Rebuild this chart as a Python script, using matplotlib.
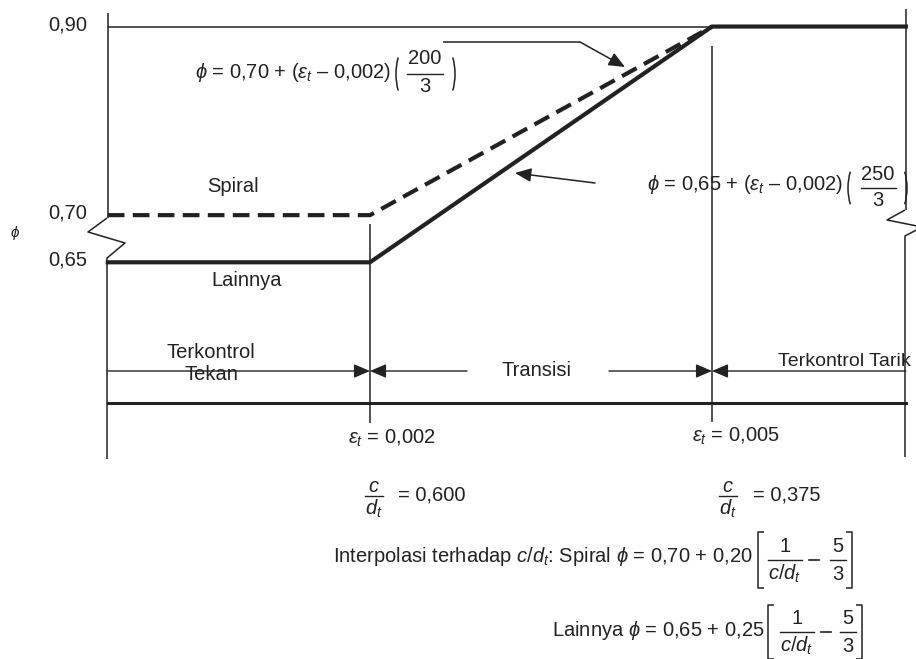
import matplotlib
matplotlib.use('Agg')
import matplotlib.pyplot as plt
import matplotlib.transforms as mtransforms
from matplotlib.patches import Arc

plt.rcParams['font.family'] = ['Liberation Sans', 'DejaVu Sans']
plt.rcParams['mathtext.fontset'] = 'custom'
plt.rcParams['mathtext.rm'] = 'Liberation Sans'
plt.rcParams['mathtext.it'] = 'Liberation Sans:italic'
plt.rcParams['mathtext.bf'] = 'Liberation Sans:bold'

# strain at the zone limits (left edge, 0.002, 0.005, right edge) and phi there
eps_pts = [-0.0003, 0.002, 0.005, 0.0067]
phi_spiral = [0.70, 0.70, 0.90]
phi_lainnya = [0.65, 0.65, 0.90, 0.90]
phi_ticks = [0.90, 0.70, 0.65]
phi_labels = ['0,90', '0,70', '0,65']
eps_marks = [0.002, 0.005]
eps_labels = [r'$\varepsilon_t$ = 0,002', r'$\varepsilon_t$ = 0,005']
cd_values = ['= 0,600', '= 0,375']
zone_labels = ['Terkontrol\nTekan', 'Transisi', 'Terkontrol Tarik']

W, H = 916, 659
INK = '#222222'
FS = 14.5

fig = plt.figure(figsize=(W / 100, H / 100), dpi=100)
ax = fig.add_axes([0, 0, 1, 1])
ax.axis('off')

# strain axis: 0.002 -> 370 px, 0.005 -> 712 px ; phi axis: 943 px per unit
kx = 342 / 0.003
ax.set_xlim(0.002 - 370 / kx, 0.002 + (W - 370) / kx)
ky = 943
ax.set_ylim(0.75 - (H - 168) / ky, 0.75 + 168 / ky)

# pixel coords (origin top-left) and blended helpers
px = mtransforms.Affine2D().scale(1 / W, -1 / H).translate(0, 1) + fig.transFigure
bx = mtransforms.blended_transform_factory(ax.transData, px)
by = mtransforms.blended_transform_factory(px, ax.transData)

thin = dict(color=INK, lw=1.1, solid_capstyle='butt')


def txt(x, y, s, ha='left', fs=FS, **kw):
    return ax.text(x, y, s, transform=px, ha=ha, va='center', fontsize=fs, color=INK, **kw)


def frac(xc, yb, num, den, w, up=14, down=14):
    txt(xc, yb - up, num, ha='center')
    txt(xc, yb + down, den, ha='center')
    ax.plot([xc - w / 2, xc + w / 2], [yb, yb], transform=px, color=INK, lw=1.0)


def parens(x0, x1, top, bot):
    h = bot - top
    yc = (top + bot) / 2
    ax.add_patch(Arc((x0 + 10, yc), 20, h, theta1=115, theta2=245, transform=px,
                     color=INK, lw=1.1))
    ax.add_patch(Arc((x1 - 10, yc), 20, h, theta1=-65, theta2=65, transform=px,
                     color=INK, lw=1.1))


def brackets(x0, x1, top, bot):
    ax.plot([x0 + 6, x0, x0, x0 + 6], [top, top, bot, bot], transform=px, **thin)
    ax.plot([x1 - 6, x1, x1, x1 - 6], [top, top, bot, bot], transform=px, **thin)


# frame: top line, side borders with breaks, zone dividers, base line
ax.plot([eps_pts[0], eps_pts[2]], [0.90, 0.90], **thin)
ax.plot([eps_pts[0]] * 2, [13, 218], transform=bx, **thin)
ax.plot([107, 88, 125, 107, 107], [218, 232, 243, 258, 459], transform=px, **thin)
ax.plot([eps_pts[3]] * 2, [9, 210], transform=bx, **thin)
ax.plot([905, 887, 922, 905, 905], [210, 220, 227, 236, 457], transform=px, **thin)
ax.plot([eps_marks[0]] * 2, [224, 423], transform=bx, **thin)
ax.plot([eps_marks[1]] * 2, [46, 422], transform=bx, **thin)
ax.plot([eps_pts[0], eps_pts[3]], [403, 403], transform=bx, color=INK, lw=2.2)

# phi curves
ax.plot(eps_pts, phi_lainnya, color=INK, lw=3.0, solid_joinstyle='miter')
ax.plot(eps_pts[:3], phi_spiral, color=INK, lw=3.0, ls=(0, (4, 2)))

# phi labels
for v, s in zip(phi_ticks, phi_labels):
    ax.text(87, v + 0.002, s, transform=by, ha='right', va='center', fontsize=FS, color=INK)
txt(15, 233, r'$\phi$', ha='center', fs=11)

txt(233, 186, 'Spiral', ha='center')
txt(247, 280, 'Lainnya', ha='center')

head = '-|>,head_length=0.7,head_width=0.3'

# formulas with leader arrows
txt(195, 72, r'$\phi$ = 0,70 + ($\varepsilon_t$ – 0,002)')
frac(425, 74, '200', '3', 36, up=15, down=13)
parens(396, 455, 48, 100)
ax.plot([443, 580], [42, 42], transform=px, **thin)
ax.annotate('', xy=(625, 67), xytext=(580, 42), xycoords=px, textcoords=px,
            arrowprops=dict(arrowstyle=head, color=INK, lw=1.1, mutation_scale=14,
                            shrinkA=0, shrinkB=0))
ax.annotate('', xy=(515, 173), xytext=(595, 183), xycoords=px, textcoords=px,
            arrowprops=dict(arrowstyle=head, color=INK, lw=1.1, mutation_scale=14,
                            shrinkA=0, shrinkB=0))
ax.add_patch(plt.Rectangle((642, 160), 262, 56, transform=px, facecolor='white',
                           edgecolor='none'))
txt(647, 185, r'$\phi$ = 0,65 + ($\varepsilon_t$ – 0,002)')
frac(878, 188, '250', '3', 35, up=14, down=13)
parens(848, 907, 163, 213)

# zone dimension arrows
arr = dict(arrowstyle=head, color=INK, lw=1.0, mutation_scale=14, shrinkA=0, shrinkB=0)
segs = [(eps_pts[0], eps_marks[0]), (0.002 + (467 - 370) / kx, eps_marks[0]),
        (0.002 + (609 - 370) / kx, eps_marks[1]), (eps_pts[3], eps_marks[1])]
for x0, x1 in segs:
    ax.annotate('', xy=(x1, 371), xytext=(x0, 371), xycoords=bx, textcoords=bx, arrowprops=arr)

txt(211, 364, zone_labels[0], ha='center', linespacing=1.2)
txt(537, 371, zone_labels[1], ha='center')
txt(778, 361, zone_labels[2], fs=14)

# strain and c/dt values at the zone limits
for (x, y), s in zip([(392, 438), (736, 436)], eps_labels):
    txt(x, y, s, ha='center')
for (xf, xv), s in zip([(374, 398), (728, 753)], cd_values):
    frac(xf, 496, '$c$', '$d_t$', 18, up=10, down=13)
    txt(xv, 495, s)


def minus(xc, y):
    ax.plot([xc - 5, xc + 5], [y, y], transform=px, color=INK, lw=1.2)


# interpolation on c/dt
txt(333, 557, r'Interpolasi terhadap $c/d_t$: Spiral $\phi$ = 0,70 + 0,20')
brackets(758, 852, 532, 588)
frac(785, 560, '1', '$c/d_t$', 34, up=14, down=14)
minus(814, 560)
frac(838, 560, '5', '3', 16, up=14, down=14)

txt(552, 630, r'Lainnya $\phi$ = 0,65 + 0,25')
brackets(768, 862, 605, 659)
frac(797, 632, '1', '$c/d_t$', 34, up=14, down=14)
minus(826, 632)
frac(848, 632, '5', '3', 16, up=14, down=14)

fig.savefig('out.png', dpi=100)
